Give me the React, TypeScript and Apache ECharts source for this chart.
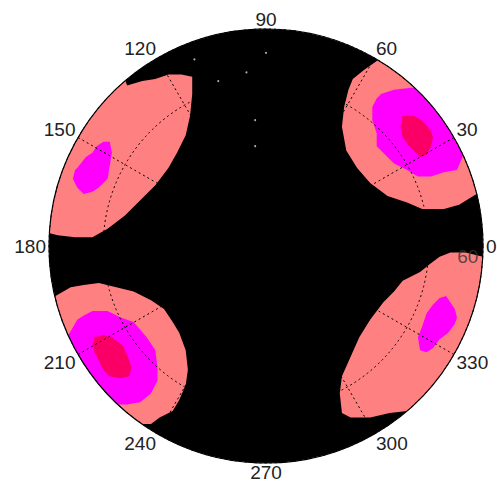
import React, { useEffect, useRef } from 'react';
import * as echarts from 'echarts';

// Pole-figure contours in projection coordinates (x, y), unit circle = 100
const urSalmon = [[52,86],[45,81],[40,77],[38,72],[36,64],[35,55],[37,44],[42,36],[48,29],[56,23],[65,20],[72,17],[82,17],[89,19],[97,24],[104,26],[104,67],[62,95]];
const urMagenta = [[53,70],[59,72],[68,73],[70,72],[85,80],[105,45],[91,42],[88,35],[82,34],[76,32],[70,32],[65,35],[59,38],[54,43],[51,46],[51,52],[49,58],[49,64],[51,68]];
const urCore = [[63,60],[68,60],[72,58],[76,53],[77,50],[76,46],[74,42],[71,41],[66,46],[63,50],[62,55]];

const llSalmon = [[-97,-23],[-90,-19],[-84,-18],[-77,-17],[-69,-19],[-61,-21],[-53,-25],[-47,-29],[-43,-35],[-40,-40],[-37,-48],[-36,-57],[-37,-64],[-40,-71],[-43,-76],[-49,-79],[-53,-82],[-58,-82],[-65,-95],[-110,-55],[-110,-15]];
const llMagenta = [[-91,-41],[-87,-34],[-84,-32],[-80,-30],[-73,-30],[-67,-33],[-61,-35],[-55,-42],[-51,-48],[-50,-56],[-50,-62],[-53,-68],[-58,-72],[-64,-73],[-69,-73],[-85,-75],[-105,-40]];
const llCore = [[-79,-42],[-75,-41],[-71,-42],[-66,-46],[-64,-50],[-62,-56],[-63,-60],[-67,-61],[-72,-60],[-75,-57],[-77,-53],[-79,-49],[-80,-45]];

const ulSalmon = [[-64,74],[-57,76],[-51,77],[-45,79],[-39,79],[-34,78],[-34,70],[-35,60],[-37,51],[-41,43],[-45,36],[-51,28],[-57,22],[-65,14],[-73,8],[-80,4],[-88,4],[-96,5],[-100,6],[-115,5],[-105,70],[-70,90]];
const ulMagenta = [[-87,36],[-83,41],[-80,43],[-78,46],[-75,48],[-72,48],[-71,43],[-72,37],[-73,31],[-77,27],[-80,25],[-84,24],[-87,27],[-89,31],[-88,35]];

const lrSalmon = [[100,-5],[92,-3],[85,-3],[80,-5],[76,-8],[71,-12],[63,-16],[59,-21],[54,-26],[48,-34],[43,-42],[39,-51],[35,-60],[34,-68],[35,-77],[39,-79],[48,-79],[57,-77],[65,-76],[75,-90],[115,-40],[110,-5]];
const lrMagenta = [[80,-24],[83,-23],[85,-26],[87,-29],[88,-33],[87,-36],[84,-40],[80,-43],[77,-47],[74,-49],[71,-48],[70,-42],[72,-37],[74,-31],[77,-27]];

const whiteSpecks = [[-33,86],[0,89],[-9,80],[-22,76],[-5,58],[-5,46]];
const rhoLabel = [[93,-5]];
const rhoLabelText = '60';

const angleMin = 0;
const angleMax = 360;
const angleStep = 30;
const radiusMax = 4;
const radiusStep = 1;

const levelColors = ['#ff8080', '#ff00ff', '#fa0066'];
const levelPolys = [
  [urSalmon, llSalmon, ulSalmon, lrSalmon],
  [urMagenta, llMagenta, ulMagenta, lrMagenta],
  [urCore, llCore],
];

const CX = 266, CY = 246, R = 217;
const FONT = '"Liberation Sans", Arial, sans-serif';

export default function App() {
  const ref = useRef<HTMLDivElement>(null);
  useEffect(() => {
    const chart = echarts.init(ref.current!, null, { renderer: 'svg' });
    const levelSeries = levelPolys.map((polys, li) => ({
      type: 'custom',
      coordinateSystem: 'cartesian2d',
      z: 2 + li,
      silent: true,
      clip: false,
      data: polys.map((_, i) => [0, 0, i]),
      encode: { x: 0, y: 1 },
      renderItem: (params: any, api: any) => {
        const poly = polys[api.value(2)];
        return {
          type: 'polygon',
          shape: { points: poly.map((p) => api.coord(p)) },
          style: { fill: levelColors[li], stroke: null },
        };
      },
    }));
    const option: any = {
      animation: false,
      backgroundColor: '#fff',
      grid: { left: CX - R, top: CY - R, width: 2 * R, height: 2 * R, show: false },
      xAxis: { type: 'value', min: -100, max: 100, show: false },
      yAxis: { type: 'value', min: -100, max: 100, show: false },
      polar: [
        { center: [CX, CY], radius: R },
        { center: [CX, CY], radius: R },
      ],
      angleAxis: [
        {
          polarIndex: 0, type: 'value', min: angleMin, max: angleMax, interval: angleStep,
          startAngle: 0, clockwise: false, z: 0,
          axisLine: { show: false }, axisTick: { show: false }, axisLabel: { show: false },
          splitLine: { show: false },
          splitArea: { show: true, areaStyle: { color: ['#000'] } },
        },
        {
          polarIndex: 1, type: 'value', min: angleMin, max: angleMax, interval: angleStep,
          startAngle: 0, clockwise: false, z: 8,
          axisLine: { show: true, lineStyle: { color: '#000', width: 1.2 } },
          axisTick: { show: false },
          axisLabel: {
            show: true, margin: 3, color: '#222', fontSize: 19, lineHeight: 13, fontFamily: FONT,
            formatter: (v: number) => (v >= angleMax ? '' : String(v)),
          },
          splitLine: { show: true, lineStyle: { color: '#000', width: 1, type: [2, 3] } },
          splitArea: { show: false },
        },
      ],
      radiusAxis: [
        {
          polarIndex: 0, type: 'value', min: 0, max: radiusMax, z: 0,
          axisLine: { show: false }, axisTick: { show: false }, axisLabel: { show: false }, splitLine: { show: false },
        },
        {
          polarIndex: 1, type: 'value', min: 0, max: radiusMax, interval: radiusStep, z: 8,
          axisLine: { show: false }, axisTick: { show: false }, axisLabel: { show: false },
          splitLine: { show: true, lineStyle: { color: '#000', width: 1, type: [2, 3] } },
        },
      ],
      graphic: [
        {
          type: 'ring', silent: true, z: 6,
          shape: { cx: CX, cy: CY, r: 500, r0: R },
          style: { fill: '#fff' },
        },
      ],
      series: [
        ...levelSeries,
        {
          type: 'scatter', coordinateSystem: 'cartesian2d', z: 9, silent: true,
          symbolSize: 2, itemStyle: { color: '#d8d8d8' }, data: whiteSpecks,
        },
        {
          type: 'scatter', coordinateSystem: 'cartesian2d', z: 9, silent: true,
          symbolSize: 0, data: rhoLabel,
          label: {
            show: true, position: 'inside', formatter: rhoLabelText,
            color: '#333', fontSize: 19, fontFamily: FONT,
          },
        },
      ],
    };
    chart.setOption(option);
    return () => chart.dispose();
  }, []);
  return (
    <div
      ref={ref}
      style={{ position: 'absolute', left: 0, top: 0, width: 497, height: 481, background: '#fff' }}
    />
  );
}
